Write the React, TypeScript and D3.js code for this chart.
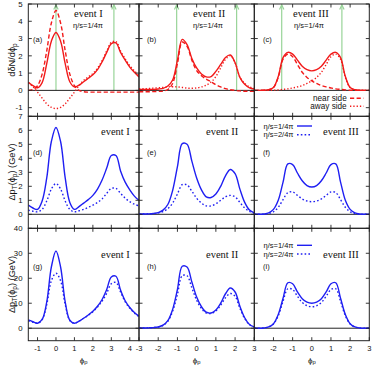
import React from 'react';
import * as d3 from 'd3';

// sampling grids in phi_p
const phiWide = [-1.5, -1.25, -1, -0.75, -0.5, -0.25, 0, 0.25, 0.5, 0.75, 1, 1.25, 1.5, 1.75, 2, 2.25, 2.5, 2.75, 3, 3.25, 3.5, 3.75, 4, 4.25, 4.5];
const phiSym = [-3, -2.75, -2.5, -2.25, -2, -1.75, -1.5, -1.25, -1, -0.75, -0.5, -0.25, 0, 0.25, 0.5, 0.75, 1, 1.25, 1.5, 1.75, 2, 2.25, 2.5, 2.75, 3];

// row 1: dδN/dφp, total / near side / away side
const aTotal = [0.47, 0.28, 0.15, 0.45, 1.55, 2.85, 3.35, 2.85, 1.55, 0.5, 0.2, 0.3, 0.5, 0.7, 0.9, 1.2, 1.65, 2.2, 2.7, 2.75, 2.2, 1.75, 1.35, 1.05, 0.78];
const aNear = [0.0, 0.05, 0.27, 0.94, 2.29, 3.9, 4.62, 3.9, 2.29, 0.94, 0.27, 0.0, -0.08, -0.1, -0.1, -0.1, -0.1, -0.1, -0.1, -0.1, -0.1, -0.1, -0.1, -0.1, -0.1];
const aAway = [0.45, 0.22, -0.1, -0.45, -0.78, -0.98, -1.05, -0.98, -0.78, -0.45, -0.1, 0.28, 0.58, 0.78, 0.98, 1.28, 1.72, 2.28, 2.78, 2.83, 2.28, 1.83, 1.43, 1.13, 0.86];
const bTotal = [0.05, 0.05, 0.05, 0.06, 0.08, 0.12, 0.25, 0.6, 1.75, 2.95, 2.65, 1.85, 1.3, 0.95, 0.78, 0.8, 1.1, 1.5, 1.9, 2.05, 1.6, 0.75, 0.35, 0.15, 0.08];
const bNear = [-0.08, -0.08, -0.08, -0.07, -0.06, -0.04, 0.05, 0.4, 1.55, 2.8, 2.55, 1.75, 1.15, 0.85, 0.65, 0.5, 0.33, 0.2, 0.1, 0.04, 0.0, -0.03, -0.05, -0.05, -0.05];
const bAway = [0.1, 0.1, 0.11, 0.13, 0.15, 0.17, 0.2, 0.21, 0.2, 0.17, 0.13, 0.12, 0.14, 0.2, 0.3, 0.48, 0.8, 1.3, 1.8, 2.0, 1.6, 0.78, 0.4, 0.2, 0.12];
const cTotal = [0.0, 0.0, 0.01, 0.04, 0.17, 0.8, 1.9, 2.2, 2.1, 1.75, 1.4, 1.2, 1.13, 1.2, 1.4, 1.75, 2.1, 2.2, 1.9, 0.8, 0.17, 0.04, 0.01, 0.0, 0.0];
const cNear = [0.0, 0.0, 0.01, 0.04, 0.16, 0.76, 1.8, 2.1, 1.95, 1.5, 1.05, 0.75, 0.55, 0.4, 0.28, 0.2, 0.14, 0.09, 0.06, 0.03, 0.01, 0.0, 0.0, 0.0, 0.0];
const cAway = [0.0, 0.0, 0.0, 0.0, 0.01, 0.03, 0.06, 0.09, 0.14, 0.2, 0.28, 0.4, 0.55, 0.75, 1.05, 1.5, 1.95, 2.1, 1.8, 0.76, 0.16, 0.04, 0.01, 0.0, 0.0];

// row 2: ΔpT (GeV), η/s = 1/4π and 2/4π
const dVisc1 = [0.65, 0.45, 0.35, 0.95, 2.6, 5.2, 6.2, 5.2, 2.6, 0.85, 0.35, 0.55, 0.8, 1.05, 1.35, 1.8, 2.45, 3.3, 4.2, 4.2, 3.1, 2.3, 1.75, 1.3, 1.0];
const dVisc2 = [0.3, 0.22, 0.18, 0.35, 0.95, 1.8, 2.2, 1.8, 0.95, 0.35, 0.18, 0.25, 0.35, 0.5, 0.65, 0.85, 1.1, 1.5, 1.85, 1.85, 1.5, 1.15, 0.9, 0.72, 0.6];
const eVisc1 = [0.02, 0.02, 0.03, 0.06, 0.12, 0.3, 0.7, 1.7, 3.4, 5.05, 5.0, 3.8, 2.6, 1.75, 1.25, 1.2, 1.45, 2.0, 2.75, 3.2, 2.9, 1.8, 0.85, 0.3, 0.1];
const eVisc2 = [0.02, 0.02, 0.03, 0.05, 0.1, 0.2, 0.4, 0.8, 1.45, 2.12, 2.1, 1.65, 1.15, 0.8, 0.6, 0.6, 0.75, 1.0, 1.25, 1.35, 1.25, 0.85, 0.45, 0.2, 0.08];
const fVisc1 = [0.0, 0.0, 0.02, 0.1, 0.35, 1.0, 2.3, 3.6, 3.55, 2.95, 2.4, 2.05, 1.95, 2.05, 2.4, 2.95, 3.55, 3.6, 2.3, 1.0, 0.35, 0.1, 0.02, 0.0, 0.0];
const fVisc2 = [0.0, 0.0, 0.01, 0.05, 0.18, 0.5, 1.05, 1.55, 1.6, 1.35, 1.1, 0.95, 0.9, 0.95, 1.1, 1.35, 1.6, 1.55, 1.05, 0.5, 0.18, 0.05, 0.01, 0.0, 0.0];

// row 3: ΔpT (GeV), η/s = 1/4π and 2/4π
const gVisc1 = [3.3, 2.6, 2.0, 3.5, 10.5, 24.5, 30.9, 24.5, 10.5, 3.2, 2.0, 2.8, 4.0, 5.3, 6.8, 8.8, 11.5, 15.5, 20.5, 20.8, 15.3, 11.0, 8.3, 6.3, 4.8];
const gVisc2 = [3.0, 2.4, 2.0, 3.4, 9.5, 19.0, 22.0, 19.0, 9.5, 3.1, 2.0, 2.8, 4.0, 5.2, 6.6, 8.5, 10.8, 14.0, 17.8, 18.3, 14.5, 10.6, 8.0, 6.1, 4.6];
const hVisc1 = [0.1, 0.1, 0.15, 0.25, 0.5, 1.2, 3.0, 7.5, 15.5, 24.8, 24.5, 18.5, 12.5, 8.6, 6.4, 6.1, 7.3, 10.0, 13.8, 16.1, 14.5, 8.8, 4.2, 1.5, 0.5];
const hVisc2 = [0.1, 0.1, 0.15, 0.25, 0.45, 1.1, 2.8, 6.8, 13.5, 21.0, 21.0, 16.2, 11.2, 7.9, 6.1, 5.9, 6.9, 9.2, 12.2, 13.9, 12.8, 8.0, 3.9, 1.4, 0.5];
const iVisc1 = [0.0, 0.0, 0.1, 0.5, 1.8, 5.5, 12.0, 18.2, 17.8, 14.5, 11.8, 10.4, 10.0, 10.4, 11.8, 14.5, 17.8, 18.2, 12.0, 5.5, 1.8, 0.5, 0.1, 0.0, 0.0];
const iVisc2 = [0.0, 0.0, 0.1, 0.5, 1.7, 5.0, 10.8, 15.8, 15.5, 12.8, 10.3, 9.0, 8.6, 9.0, 10.3, 12.8, 15.5, 15.8, 10.8, 5.0, 1.7, 0.5, 0.1, 0.0, 0.0];

// jet directions marked by arrows in the top row
const arrowsA = [0, 3.14];
const arrowsB = [-1.04, 2.08];
const arrowsC = [-1.57, 1.57];

const eventNames = ['event I', 'event II', 'event III'];
const panelTags = ['(a)', '(b)', '(c)', '(d)', '(e)', '(f)', '(g)', '(h)', '(i)'];
const etaLabels = ['η/s=1/4π', 'η/s=2/4π'];
const sideLabels = ['near side', 'away side'];

const xTicks = [[-1, 0, 1, 2, 3, 4], [-3, -2, -1, 0, 1, 2, 3], [-3, -2, -1, 0, 1, 2, 3]];
const xTickLabels = [[-1, 0, 1, 2, 3, 4], [-3, -2, -1, 0, 1, 2, 3], [-2, -1, 0, 1, 2, 3]];
const yTicks = [[-1, 0, 1, 2, 3, 4, 5], [0, 1, 2, 3, 4, 5, 6, 7], [0, 10, 20, 30, 40]];

const W = 374;
const H = 369;
const colEdges = [[28.3, 139], [139, 254.3], [254.3, 369.3]];
const rowEdges = [[4, 116.3], [116.3, 228.3], [228.3, 340.7]];
const xDomains = [[-1.5, 4.5], [-3, 3], [-3, 3]];
const yDomains = [[-1.5, 5], [-1, 7], [-5, 40]];

const RED = '#f21a1a';
const BLUE = '#1f1ff2';
const GREEN = '#98d498';
const SANS = 'Liberation Sans, Arial, sans-serif';
const SERIF = 'Liberation Serif, Times New Roman, serif';
const DASH = '4.2,2.4';
const DOT = '1.3,2';
const BDOT = '1.6,2.2';

type Series = { ys: number[]; color: string; dash?: string };

const phiGrid = [phiWide, phiSym, phiSym];
const seriesByPanel: Series[][] = [
  [{ ys: aAway, color: RED, dash: DOT }, { ys: aNear, color: RED, dash: DASH }, { ys: aTotal, color: RED }],
  [{ ys: bAway, color: RED, dash: DOT }, { ys: bNear, color: RED, dash: DASH }, { ys: bTotal, color: RED }],
  [{ ys: cAway, color: RED, dash: DOT }, { ys: cNear, color: RED, dash: DASH }, { ys: cTotal, color: RED }],
  [{ ys: dVisc2, color: BLUE, dash: BDOT }, { ys: dVisc1, color: BLUE }],
  [{ ys: eVisc2, color: BLUE, dash: BDOT }, { ys: eVisc1, color: BLUE }],
  [{ ys: fVisc2, color: BLUE, dash: BDOT }, { ys: fVisc1, color: BLUE }],
  [{ ys: gVisc2, color: BLUE, dash: BDOT }, { ys: gVisc1, color: BLUE }],
  [{ ys: hVisc2, color: BLUE, dash: BDOT }, { ys: hVisc1, color: BLUE }],
  [{ ys: iVisc2, color: BLUE, dash: BDOT }, { ys: iVisc1, color: BLUE }],
];
const arrowsByCol = [arrowsA, arrowsB, arrowsC];

// text placement per panel (absolute px)
const eventPos = [[74, 17.3], [193, 17.3], [293, 17.3], [101, 135], [206, 135], [323, 135], [101, 258], [206, 258], [323, 258]];
const tagPos = [[33, 42], [147, 42], [263, 42], [33, 155], [147, 155], [263, 155], [33, 269], [147, 269], [263, 269]];
const etaPos = [[73, 27.5], [193, 27.5], [294, 27.5]];

const TICK = 3.5;

function Panel({ r, c }: { r: number; c: number }) {
  const idx = r * 3 + c;
  const [x0, x1] = colEdges[c];
  const [y0, y1] = rowEdges[r];
  const x = d3.scaleLinear().domain(xDomains[c]).range([x0, x1]);
  const y = d3.scaleLinear().domain(yDomains[r]).range([y1, y0]);
  const line = d3
    .line<number>()
    .x((_, i) => x(phiGrid[c][i]))
    .y((d) => y(d))
    .curve(d3.curveCatmullRom.alpha(0.5));
  const clipId = `clip-${idx}`;
  return (
    <g>
      <defs>
        <clipPath id={clipId}>
          <rect x={x0} y={y0} width={x1 - x0} height={y1 - y0} />
        </clipPath>
      </defs>
      {r === 0 &&
        arrowsByCol[c].map((a, k) => (
          <g key={`ar${k}`} stroke={GREEN} strokeWidth={1.2} fill="none">
            <line x1={x(a)} x2={x(a)} y1={y(0)} y2={y0 + 0.5} />
            <path d={`M${x(a) - 2.2},${y0 + 5.5}L${x(a)},${y0 + 0.8}L${x(a) + 2.2},${y0 + 5.5}`} />
          </g>
        ))}
      <line x1={x0} x2={x1} y1={y(0)} y2={y(0)} stroke="#222" strokeWidth={1} />
      <g clipPath={`url(#${clipId})`}>
        {seriesByPanel[idx].map((s, k) => (
          <path
            key={k}
            d={line(s.ys) || ''}
            fill="none"
            stroke={s.color}
            strokeWidth={1.4}
            strokeDasharray={s.dash}
          />
        ))}
      </g>
      {/* inward ticks on all four sides */}
      <g stroke="#222" strokeWidth={0.9}>
        {xTicks[c].map((t) => (
          <g key={`xt${t}`}>
            <line x1={x(t)} x2={x(t)} y1={y1} y2={y1 - TICK} />
            <line x1={x(t)} x2={x(t)} y1={y0} y2={y0 + TICK} />
          </g>
        ))}
        {yTicks[r].map((t) => (
          <g key={`yt${t}`}>
            <line x1={x0} x2={x0 + TICK} y1={y(t)} y2={y(t)} />
            <line x1={x1} x2={x1 - TICK} y1={y(t)} y2={y(t)} />
          </g>
        ))}
      </g>
      <rect x={x0} y={y0} width={x1 - x0} height={y1 - y0} fill="none" stroke="#222" strokeWidth={1} />
      <text x={eventPos[idx][0]} y={eventPos[idx][1]} fontFamily={SERIF} fontSize={10.5} fill="#111">
        {eventNames[c]}
      </text>
      <text x={tagPos[idx][0]} y={tagPos[idx][1]} fontFamily={SANS} fontSize={7.5} fill="#111">
        {panelTags[idx]}
      </text>
      {r === 0 && (
        <text x={etaPos[c][0]} y={etaPos[c][1]} fontFamily={SANS} fontSize={7.5} fill="#111">
          {etaLabels[0]}
        </text>
      )}
      {c === 0 &&
        yTicks[r].map((t) => (
          <text key={`yl${t}`} x={22.5} y={y(t) + 2.7} textAnchor="end" fontFamily={SANS} fontSize={7.8} fill="#111">
            {t}
          </text>
        ))}
      {r === 2 &&
        xTickLabels[c].map((t) => (
          <text key={`xl${t}`} x={x(t)} y={351.3} textAnchor="middle" fontFamily={SANS} fontSize={7.5} fill="#111">
            {t}
          </text>
        ))}
      {r === 2 && (
        <text x={(x0 + x1) / 2} y={362.5} textAnchor="middle" fontFamily={SANS} fontSize={8} fill="#111">
          ϕ<tspan dy={1.8} fontSize={5.8}>p</tspan>
        </text>
      )}
    </g>
  );
}

function Legends() {
  const sideY = [98.3, 106.2];
  const rowLegend = (yy: number[], key: string) => (
    <g key={key}>
      {etaLabels.map((lab, k) => (
        <g key={lab}>
          <text x={293.5} y={yy[k] + 2.5} textAnchor="end" fontFamily={SANS} fontSize={7.5} fill="#111">
            {lab}
          </text>
          <line x1={297} x2={312} y1={yy[k]} y2={yy[k]} stroke={BLUE} strokeWidth={1.4} strokeDasharray={k === 1 ? BDOT : undefined} />
        </g>
      ))}
    </g>
  );
  return (
    <g>
      {sideLabels.map((lab, k) => (
        <g key={lab}>
          <text x={346.7} y={sideY[k] + 2.6} textAnchor="end" fontFamily={SANS} fontSize={8.2} fill="#111">
            {lab}
          </text>
          <line x1={350} x2={363.5} y1={sideY[k]} y2={sideY[k]} stroke={RED} strokeWidth={1.4} strokeDasharray={k === 0 ? DASH : DOT} />
        </g>
      ))}
      {rowLegend([126, 134.8], 'f')}
      {rowLegend([245.3, 254], 'i')}
    </g>
  );
}

export default function App() {
  return (
    <svg width={W} height={H} style={{ position: 'absolute', left: 0, top: 0, background: '#fff' }}>
      <rect width={W} height={H} fill="#fff" />
      {[0, 1, 2].map((r) => [0, 1, 2].map((c) => <Panel key={`${r}-${c}`} r={r} c={c} />))}
      <Legends />
      <text transform={`translate(15,60) rotate(-90)`} textAnchor="middle" fontFamily={SANS} fontSize={9.2} fill="#111">
        dδN/dϕ<tspan dy={2.2} fontSize={6.5}>p</tspan>
      </text>
      {[172, 284.5].map((cy) => (
        <text key={cy} transform={`translate(15,${cy}) rotate(-90)`} textAnchor="middle" fontFamily={SANS} fontSize={9.2} fill="#111">
          Δp<tspan dy={2.2} fontSize={6.5}>T</tspan>
          <tspan dy={-2.2}>(ϕ</tspan>
          <tspan dy={2.2} fontSize={6.5}>p</tspan>
          <tspan dy={-2.2}>) (GeV)</tspan>
        </text>
      ))}
    </svg>
  );
}
